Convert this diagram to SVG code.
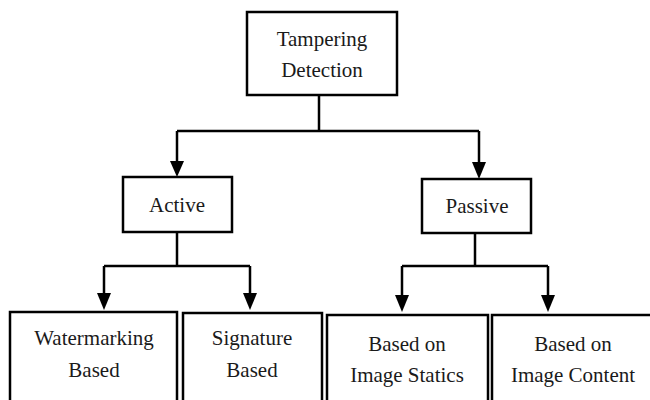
<svg xmlns="http://www.w3.org/2000/svg" width="650" height="400" viewBox="0 0 650 400">
<defs>
<style>
.box{fill:#fff;stroke:#000;stroke-width:2.5}
.t{font-family:"Liberation Serif","DejaVu Serif",serif;font-size:21px;fill:#1a1a1a;text-anchor:middle}
.c{fill:none;stroke:#000;stroke-width:2.5}
.ah{fill:#000}
</style>
</defs>
<rect width="650" height="400" fill="#fff"/>
<g id="connectors">
<path class="c" d="M319,95 V131"/>
<path class="c" d="M177,131 H479"/>
<path class="c" d="M177,131 V162"/>
<path class="ah" d="M170,161 L184,161 L177,177 Z"/>
<path class="c" d="M479,131 V163"/>
<path class="ah" d="M472,162 L486,162 L479,179 Z"/>
<path class="c" d="M177,232 V266 M104,266 H250"/>
<path class="c" d="M104,266 V294 M250,266 V294"/>
<path class="ah" d="M97,293 L111,293 L104,310 Z"/>
<path class="ah" d="M243,293 L257,293 L250,310 Z"/>
<path class="c" d="M475,233 V266 M402,266 H548"/>
<path class="c" d="M402,266 V296 M548,266 V296"/>
<path class="ah" d="M395,295 L409,295 L402,312 Z"/>
<path class="ah" d="M541,295 L555,295 L548,312 Z"/>
</g>
<g id="tampering">
<rect class="box" x="247" y="12" width="150" height="83"/>
<text class="t" x="322" y="46">Tampering</text>
<text class="t" x="322" y="77">Detection</text>
</g>
<g id="active">
<rect class="box" x="123" y="177" width="109" height="55"/>
<text class="t" x="177" y="212">Active</text>
</g>
<g id="passive">
<rect class="box" x="422" y="179" width="109" height="54"/>
<text class="t" x="477" y="213">Passive</text>
</g>
<g id="watermarking">
<rect class="box" x="10" y="312" width="167" height="100"/>
<text class="t" x="94" y="345">Watermarking</text>
<text class="t" x="94" y="377">Based</text>
</g>
<g id="signature">
<rect class="box" x="183" y="313" width="139" height="100"/>
<text class="t" x="252" y="345">Signature</text>
<text class="t" x="252" y="377">Based</text>
</g>
<g id="statics">
<rect class="box" x="327" y="315" width="161" height="100"/>
<text class="t" x="407" y="351">Based on</text>
<text class="t" x="407" y="382">Image Statics</text>
</g>
<g id="content">
<rect class="box" x="492" y="315" width="165" height="100"/>
<text class="t" x="573" y="351">Based on</text>
<text class="t" x="573" y="382">Image Content</text>
</g>
</svg>
